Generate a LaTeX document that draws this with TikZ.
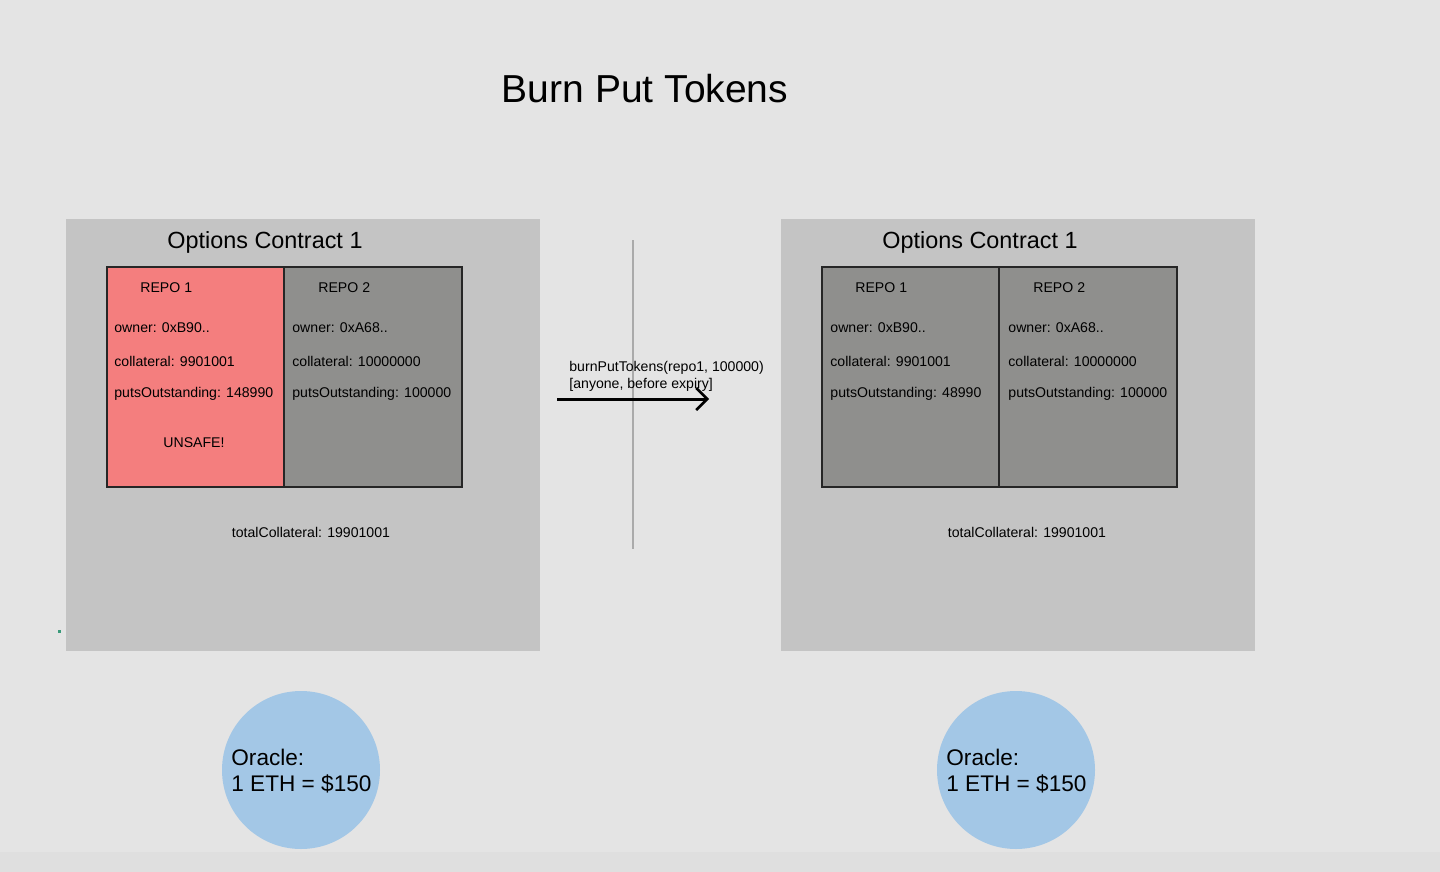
\documentclass[tikz,border=0pt]{standalone}
\usepackage{fontspec}
\setmainfont{Liberation Sans}
\usetikzlibrary{arrows.meta}
\definecolor{bg}{HTML}{E4E4E4}
\definecolor{bgbottom}{HTML}{DFDFDF}
\definecolor{contbg}{HTML}{C4C4C4}
\definecolor{repored}{HTML}{F47E7E}
\definecolor{repogray}{HTML}{8F8F8D}
\definecolor{oracle}{HTML}{A3C7E6}
\definecolor{divider}{HTML}{AAAAAA}
\definecolor{dotc}{HTML}{3A9A7A}
\begin{document}
\begin{tikzpicture}[x=0.5pt,y=-0.5pt,
  container/.style={fill=contbg,draw=none},
  repobox/.style={draw=black!85,line width=1pt,inner sep=0pt,anchor=north west,minimum height=110pt},
  small/.style={font=\fontsize{7.05}{8}\selectfont,inner sep=0pt,anchor=west},
  ctitle/.style={font=\fontsize{11.7}{14}\selectfont,inner sep=0pt},
  oracletext/.style={font=\fontsize{11.3}{13.5}\selectfont,inner sep=0pt,anchor=west,align=left}]
\fill[bg] (0,0) rectangle (1440,872);
\fill[bgbottom] (0,852) rectangle (1440,872);
\useasboundingbox (0,0) rectangle (1440,872);
\node[font=\fontsize{19.5}{23}\selectfont,inner sep=0pt] (title) at (645,89) {Burn Put Tokens};
% left container
\fill[container] (66,219) rectangle (540,651);
\node[ctitle] (lct) at (265,242) {Options Contract 1};
\node[repobox,fill=repored,minimum width=88.5pt] (lr1) at (106,266) {};
\node[repobox,fill=repogray,minimum width=89pt] (lr2) at (283,266) {};
\node[small] (lr1a) at (140,288) {REPO 1};
\node[small] (lr1b) at (114,328) {owner: 0xB90..};
\node[small] (lr1c) at (114,361) {collateral: 9901001};
\node[small] (lr1d) at (114,394) {putsOutstanding: 148990};
\node[small,anchor=center] (lr1e) at (194,443) {UNSAFE!};
\node[small] (lr2a) at (318,288) {REPO 2};
\node[small] (lr2b) at (292,328) {owner: 0xA68..};
\node[small] (lr2c) at (292,361) {collateral: 10000000};
\node[small] (lr2d) at (292,394) {putsOutstanding: 100000};
\node[small,anchor=center] (ltc) at (311,532) {totalCollateral: 19901001};
% divider and arrow
\coordinate (dtop) at (633,240);
\coordinate (dbot) at (633,549);
\draw[divider,line width=0.6pt] (dtop) -- (dbot);
\coordinate (astart) at (557,399);
\coordinate (aend) at (709,399);
\draw[line width=1.5pt,-{Straight Barb[length=5.5pt,width=11pt,line width=1.3pt]}] (astart) -- (aend);
\node[small] (al1) at (569,368) {burnPutTokens(repo1, 100000)};
\node[small] (al2) at (569,385) {[anyone, before expiry]};
% right container
\fill[container] (781,219) rectangle (1255,651);
\node[ctitle] (rct) at (980,242) {Options Contract 1};
\node[repobox,fill=repogray,minimum width=88.5pt] (rr1) at (821,266) {};
\node[repobox,fill=repogray,minimum width=89pt] (rr2) at (998,266) {};
\node[small] (rr1a) at (855,288) {REPO 1};
\node[small] (rr1b) at (830,328) {owner: 0xB90..};
\node[small] (rr1c) at (830,361) {collateral: 9901001};
\node[small] (rr1d) at (830,394) {putsOutstanding: 48990};
\node[small] (rr2a) at (1033,288) {REPO 2};
\node[small] (rr2b) at (1008,328) {owner: 0xA68..};
\node[small] (rr2c) at (1008,361) {collateral: 10000000};
\node[small] (rr2d) at (1008,394) {putsOutstanding: 100000};
\node[small,anchor=center] (rtc) at (1027,532) {totalCollateral: 19901001};
% oracles
\node[circle,fill=oracle,minimum size=79pt,inner sep=0pt] (lo) at (301,770) {};
\node[oracletext] (lot) at (231,771) {Oracle:\\[-0.5pt]1 ETH = \$150};
\node[circle,fill=oracle,minimum size=79pt,inner sep=0pt] (ro) at (1016,770) {};
\node[oracletext] (rot) at (946,771) {Oracle:\\[-0.5pt]1 ETH = \$150};
% stray dot
\fill[dotc] (58,630) rectangle (61,633);
\end{tikzpicture}
\end{document}
